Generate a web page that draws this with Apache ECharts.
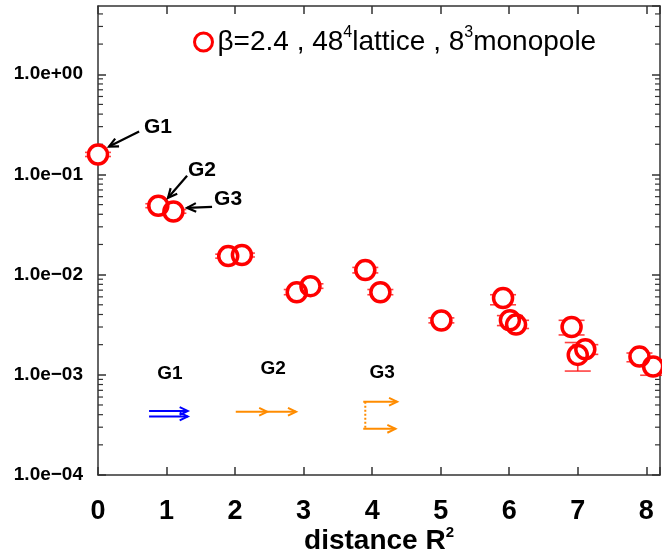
<!DOCTYPE html>
<html><head><meta charset="utf-8">
<script src="https://cdn.jsdelivr.net/npm/echarts@6/dist/echarts.min.js"></script>
<style>html,body{margin:0;padding:0;background:#fff}#c{width:662px;height:554px}</style>
</head><body><div id="c"></div>
<script>
// ---- data ----
const distances = [0, 0.88, 1.10, 1.90, 2.10, 2.90, 3.10, 3.90, 4.12, 5.01, 5.91, 6.01, 6.10, 6.91, 7.00, 7.11, 7.90, 8.10];
const values    = [0.158, 0.0487, 0.0427, 0.0153, 0.0157, 0.00668, 0.00767, 0.0111, 0.00668, 0.00348, 0.00585, 0.0035, 0.00317, 0.0030, 0.00158, 0.0018, 0.00152, 0.00121];
const errLow    = [0.151, 0.0466, 0.0410, 0.0146, 0.0150, 0.0063, 0.0073, 0.0104, 0.0063, 0.0033, 0.0050, 0.0031, 0.0029, 0.0025, 0.00109, 0.0016, 0.00135, 0.00099];
const errHigh   = [0.166, 0.0510, 0.0446, 0.0160, 0.0164, 0.0071, 0.0081, 0.0118, 0.0071, 0.0037, 0.0063, 0.0039, 0.0035, 0.0035, 0.0021, 0.0020, 0.00165, 0.00135];
const xTickLabels = ['0','1','2','3','4','5','6','7','8'];
const yTickLabels = ['1.0e\u221204','1.0e\u221203','1.0e\u221202','1.0e\u221201','1.0e+00'];
const seriesName = 'beta2.4';

// annotation arrows (data coordinates): [x1, y1, x2, y2]
const pointerArrows = [[0.60, 0.268, 0.161, 0.190], [1.30, 0.0971, 1.022, 0.0585], [1.664, 0.0475, 1.299, 0.0464]];
const pointerLabels = [['G1', 0.876, 0.294], ['G2', 1.518, 0.109], ['G3', 1.898, 0.0571]];
// schematic pictograms
const schemeLabels = [['G1', 1.05, 1.03e-3], ['G2', 2.555, 1.155e-3], ['G3', 4.146, 1.054e-3]];
const schemeArrows = [
  [0.745, 4.36e-4, 1.31, 4.36e-4, 'blue'], [0.745, 3.84e-4, 1.31, 3.84e-4, 'blue'],
  [2.01, 4.28e-4, 2.47, 4.28e-4, 'orange'], [2.47, 4.28e-4, 2.89, 4.28e-4, 'orange'],
  [3.87, 5.39e-4, 4.365, 5.39e-4, 'orange'], [3.87, 2.89e-4, 4.34, 2.89e-4, 'orange']
];
const schemeDotted = [[3.90, 5.39e-4, 3.90, 2.89e-4]];

const minorTickValues = [];
for (let e = -4; e <= 0; e++) for (let m = 2; m <= 9; m++) { const v = m * Math.pow(10, e); if (v < 4.8) minorTickValues.push(v); }

const colors = {blue: '#0000ff', orange: '#ff8c00', black: '#000'};

function arrowShape(p1, p2, color, len, width) {
  const dx = p2[0] - p1[0], dy = p2[1] - p1[1];
  const L = Math.sqrt(dx*dx + dy*dy), ux = dx / L, uy = dy / L;
  const a = Math.PI / 7;
  const h1 = [p2[0] - len*(ux*Math.cos(a) - uy*Math.sin(a)), p2[1] - len*(uy*Math.cos(a) + ux*Math.sin(a))];
  const h2 = [p2[0] - len*(ux*Math.cos(a) + uy*Math.sin(a)), p2[1] - len*(uy*Math.cos(a) - ux*Math.sin(a))];
  return [
    {type: 'line', shape: {x1: p1[0], y1: p1[1], x2: p2[0], y2: p2[1]}, style: {stroke: color, lineWidth: width}},
    {type: 'polyline', shape: {points: [h1, p2, h2]}, style: {stroke: color, lineWidth: width, fill: null}}
  ];
}

const chart = echarts.init(document.getElementById('c'), null, {renderer: 'canvas'});
const axisLineStyle = {color: '#333', width: 1.5};
const yLabelFmt = v => {
  const e = Math.log10(v), r = Math.round(e);
  if (Math.abs(e - r) > 1e-6 || r < -4 || r > 0) return '';
  return yTickLabels[r + 4];
};
const option = {
  animation: false,
  grid: {left: 98, right: 2, top: 6, bottom: 79, containLabel: false, outerBoundsMode: 'none'},
  legend: {
    left: 188, top: 20, itemWidth: 18, itemHeight: 18,
    data: [{name: seriesName, icon: 'circle', itemStyle: {color: 'rgba(0,0,0,0)', borderColor: '#ff0000', borderWidth: 3}}],
    formatter: () => '{a|\u03b2=2.4 , 48}{s|4}{a|lattice , 8}{s|3}{a|monopole}',
    textStyle: {rich: {
      a: {fontFamily: 'Liberation Sans', fontSize: 28, color: '#000'},
      s: {fontFamily: 'Liberation Sans', fontSize: 16, color: '#000', padding: [0, 0, 18, 0]}
    }}
  },
  xAxis: [{
    type: 'value', min: 0, max: 8.2, interval: 1, position: 'bottom',
    axisLine: {show: true, onZero: false, lineStyle: axisLineStyle},
    axisTick: {inside: true, length: 8, lineStyle: {color: '#333', width: 1.5}},
    splitLine: {show: false},
    axisLabel: {margin: 23, fontFamily: 'Liberation Sans', fontWeight: 'bold', fontSize: 27, color: '#000',
      formatter: v => (Math.abs(v - Math.round(v)) < 1e-6 && v <= 8) ? xTickLabels[Math.round(v)] : ''},
    name: '{n|distance R}{s|2}', nameLocation: 'middle', nameGap: 50, nameMoveOverlap: false,
    nameTextStyle: {verticalAlign: 'top', rich: {
      n: {fontFamily: 'Liberation Sans', fontWeight: 'bold', fontSize: 28, color: '#000'},
      s: {fontFamily: 'Liberation Sans', fontWeight: 'bold', fontSize: 15, color: '#000', padding: [0, 0, 18, 0]}
    }}
  }, {
    type: 'value', min: 0, max: 8.2, interval: 1, position: 'top',
    axisLine: {show: true, onZero: false, lineStyle: axisLineStyle},
    axisTick: {inside: true, length: 8, lineStyle: {color: '#333', width: 1.5}},
    splitLine: {show: false}, axisLabel: {show: false}
  }],
  yAxis: [{
    type: 'log', logBase: 10, min: 1e-4, max: 4.8, position: 'left',
    axisLine: {show: true, onZero: false, lineStyle: axisLineStyle},
    axisTick: {inside: true, length: 8, lineStyle: {color: '#333', width: 1.5}},
    splitLine: {show: false},
    axisLabel: {margin: 15, fontFamily: 'Liberation Sans', fontWeight: 'bold', fontSize: 19, color: '#000', formatter: yLabelFmt, showMaxLabel: false}
  }, {
    type: 'log', logBase: 10, min: 1e-4, max: 4.8, position: 'right',
    axisLine: {show: true, onZero: false, lineStyle: axisLineStyle},
    axisTick: {inside: true, length: 8, lineStyle: {color: '#333', width: 1.5}},
    splitLine: {show: false}, axisLabel: {show: false}
  }],
  series: [
    { // minor ticks
      type: 'custom', silent: true, clip: false, z: 1,
      data: minorTickValues.map(v => [0, v]),
      renderItem: (params, api) => {
        const cs = params.coordSys;
        const y = api.coord([0, api.value(1)])[1];
        return {type: 'group', children: [
          {type: 'line', shape: {x1: cs.x, y1: y, x2: cs.x + 5, y2: y}, style: {stroke: '#333', lineWidth: 1.2}},
          {type: 'line', shape: {x1: cs.x + cs.width, y1: y, x2: cs.x + cs.width - 5, y2: y}, style: {stroke: '#333', lineWidth: 1.2}}
        ]};
      }
    },
    { // error bars
      type: 'custom', silent: true, clip: false, z: 2,
      data: distances.map((d, i) => [d, errLow[i], errHigh[i]]),
      renderItem: (params, api) => {
        const lo = api.coord([api.value(0), api.value(1)]);
        const hi = api.coord([api.value(0), api.value(2)]);
        const hw = 13;
        const st = {stroke: 'rgba(255,0,0,0.75)', lineWidth: 1.6};
        return {type: 'group', children: [
          {type: 'line', shape: {x1: lo[0], y1: lo[1], x2: hi[0], y2: hi[1]}, style: st},
          {type: 'line', shape: {x1: lo[0] - hw, y1: lo[1], x2: lo[0] + hw, y2: lo[1]}, style: st},
          {type: 'line', shape: {x1: hi[0] - hw, y1: hi[1], x2: hi[0] + hw, y2: hi[1]}, style: st}
        ]};
      }
    },
    { // white fill under rings
      type: 'scatter', silent: true, z: 3, symbol: 'circle', symbolSize: 19,
      itemStyle: {color: '#fff', opacity: 1},
      data: distances.map((d, i) => [d, values[i]])
    },
    {
      name: seriesName, type: 'scatter', z: 4, symbol: 'circle', symbolSize: 19,
      itemStyle: {color: 'rgba(0,0,0,0)', borderColor: '#ff0000', borderWidth: 3.5, opacity: 1},
      data: distances.map((d, i) => [d, values[i]])
    },
    { // pointer arrows
      type: 'custom', silent: true, clip: false, z: 5,
      data: pointerArrows,
      renderItem: (params, api) => {
        const p1 = api.coord([api.value(0), api.value(1)]);
        const p2 = api.coord([api.value(2), api.value(3)]);
        return {type: 'group', children: arrowShape(p1, p2, '#000', 10, 2.2)};
      }
    },
    { // pointer labels and scheme labels
      type: 'custom', silent: true, clip: false, z: 5,
      data: pointerLabels.map(l => [l[1], l[2], 21, l[0]]).concat(schemeLabels.map(l => [l[1], l[2], 19, l[0]])),
      renderItem: (params, api) => {
        const p = api.coord([api.value(0), api.value(1)]);
        const item = params.dataIndex < pointerLabels.length ? pointerLabels[params.dataIndex] : schemeLabels[params.dataIndex - pointerLabels.length];
        return {type: 'text', x: p[0], y: p[1], style: {text: item[0], fontFamily: 'Liberation Sans', fontWeight: 'bold', fontSize: api.value(2), fill: '#000', align: 'center', verticalAlign: 'middle'}};
      }
    },
    { // scheme arrows
      type: 'custom', silent: true, clip: false, z: 5,
      data: schemeArrows.map(a => [a[0], a[1], a[2], a[3]]),
      renderItem: (params, api) => {
        const p1 = api.coord([api.value(0), api.value(1)]);
        const p2 = api.coord([api.value(2), api.value(3)]);
        return {type: 'group', children: arrowShape(p1, p2, colors[schemeArrows[params.dataIndex][4]], 9, 2)};
      }
    },
    { // dotted connector
      type: 'custom', silent: true, clip: false, z: 5,
      data: schemeDotted,
      renderItem: (params, api) => {
        const p1 = api.coord([api.value(0), api.value(1)]);
        const p2 = api.coord([api.value(2), api.value(3)]);
        return {type: 'line', shape: {x1: p1[0], y1: p1[1], x2: p2[0], y2: p2[1]}, style: {stroke: colors.orange, lineWidth: 2, lineDash: [2, 2]}};
      }
    }
  ]
};
chart.setOption(option);
</script>
</body></html>
